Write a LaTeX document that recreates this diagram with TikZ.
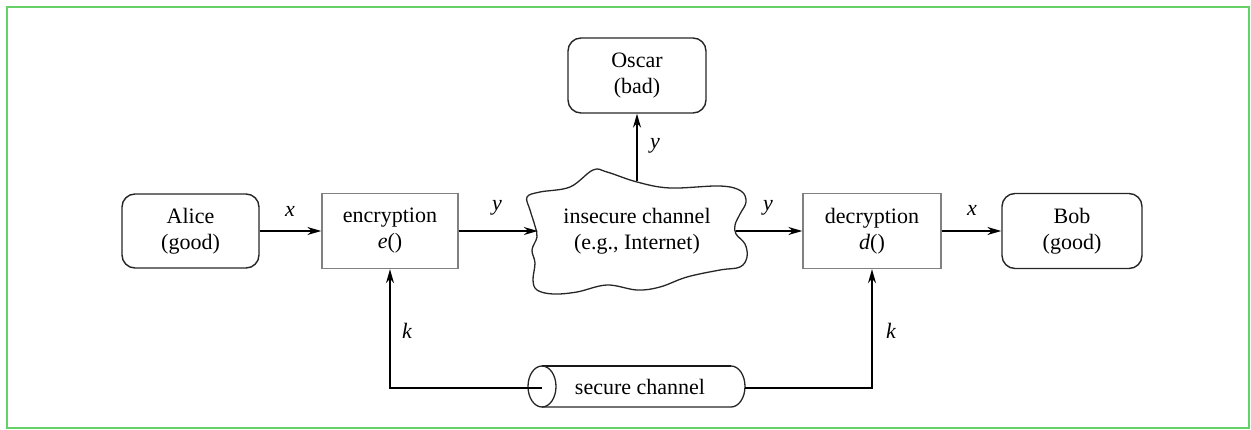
\documentclass[tikz,border=0pt]{standalone}
\usepackage{fontspec}
\setmainfont{Liberation Serif}
\usetikzlibrary{arrows.meta}
\begin{document}
\begin{tikzpicture}[x=1pt,y=-1pt,
  every node/.style={font=\fontsize{22}{26}\selectfont, inner sep=0pt},
  party/.style={draw=black!85, line width=1.4pt, rounded corners=13pt, align=center},
  proc/.style={draw=black!50, line width=1.4pt, align=center},
  lbl/.style={font=\fontsize{22}{26}\selectfont\itshape},
  conn/.style={line width=1.4pt, -{Stealth[length=14pt,width=8pt]}},
  plain/.style={line width=1.4pt}]
\useasboundingbox (0,0) rectangle (1251,430);
\draw[draw=green!70!black!60!white, line width=2pt] (7,7) rectangle (1249,428);

\node[party, minimum width=137pt, minimum height=74pt] (alice) at (190.5,231) {Alice\\(good)};
\node[proc, minimum width=136pt, minimum height=75pt] (enc) at (390,231) {encryption\\\textit{e}()};
\node[party, minimum width=138pt, minimum height=75pt] (oscar) at (637,75.5) {Oscar\\(bad)};
\node[proc, minimum width=138pt, minimum height=75pt] (dec) at (872,231) {decryption\\\textit{d}()};
\node[party, minimum width=140pt, minimum height=75pt] (bob) at (1072,231) {Bob\\(good)};

% cloud outline
\draw[line width=1.3pt, black!85] plot[smooth cycle, tension=0.6] coordinates {
 (527,197) (540,192) (570,187) (593,170) (607,172) (637,182) (670,188) (720,186)
 (741,191) (746,202) (740,214) (735,225) (736,234) (745,244) (747,257) (740,267)
 (720,270) (687,277) (660,287) (637,290) (607,285) (577,292) (553,294) (537,290)
 (533,280) (535,263) (532,250) (537,237) (535,226) (530,210)};
\node[minimum width=198pt, minimum height=100pt, align=center] (cloud) at (637,231) {insecure channel\\(e.g., Internet)};

% secure channel cylinder
\draw[line width=1.3pt, black!85] (542,407) -- (731,407) arc[start angle=-90, end angle=90, x radius=14pt, y radius=20.5pt];
\draw[line width=2.6pt, black!90] (542,366) -- (731,366);
\draw[line width=1.3pt, black!85] (542,386.5) ellipse[x radius=14pt, y radius=20.5pt];
\node[minimum width=217pt, minimum height=41pt] (sec) at (640,386.5) {secure channel};
\coordinate (secL) at (542,388);
\coordinate (secR) at (745,388);

% connectors
\draw[conn] (alice.east) -- (enc.west);
\draw[conn] (enc.east) -- (cloud.west);
\draw[conn] (cloud.north) -- (oscar.south);
\draw[conn] (cloud.east) -- (dec.west);
\draw[conn] (dec.east) -- (bob.west);
\draw[conn] (secL) -| (enc.south);
\draw[conn] (secR) -| (dec.south);

% labels
\node[lbl] (lx1) at (290,211) {x};
\node[lbl] (ly1) at (497,208) {y};
\node[lbl] (ly2) at (655,146) {y};
\node[lbl] (ly3) at (768,208) {y};
\node[lbl] (lx2) at (972,210) {x};
\node[lbl] (lk1) at (407,331) {k};
\node[lbl] (lk2) at (891,331) {k};
\end{tikzpicture}
\end{document}
